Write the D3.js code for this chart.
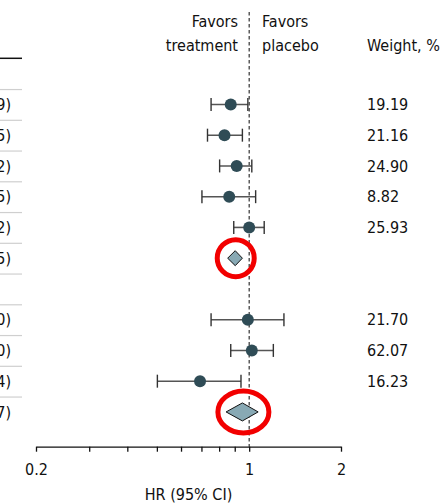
<!DOCTYPE html>
<html>
<head>
<meta charset="utf-8">
<script src="https://cdn.jsdelivr.net/npm/d3@7"></script>
<style>
  body { margin: 0; background: #fff; }
  svg { display: block; }
  text { font-family: "DejaVu Sans Condensed", "DejaVu Sans", sans-serif; font-stretch: condensed; font-size: 16px; fill: #111; }
</style>
</head>
<body>
<svg></svg>
<script>
// rows: 0 header, 1-5 studies, 6 pooled, 7 header, 8-10 studies, 11 pooled
var rowType = ["header", "study", "study", "study", "study", "study", "pooled",
               "header", "study", "study", "study", "pooled"];
var hr     = [null, 0.87, 0.83, 0.91, 0.86, 1.00, 0.90, null, 0.99, 1.02, 0.69, 0.95];
var ciLow  = [null, 0.75, 0.73, 0.80, 0.70, 0.89, 0.85, null, 0.75, 0.87, 0.50, 0.84];
var ciHigh = [null, 0.99, 0.95, 1.02, 1.05, 1.12, 0.95, null, 1.30, 1.20, 0.94, 1.07];
var weight = [null, "19.19", "21.16", "24.90", "8.82", "25.93", null, null, "21.70", "62.07", "16.23", null];
var tickMajor = [0.2, 1, 2];
var tickMinor = [0.3, 0.4, 0.5, 0.6, 0.7, 0.8, 0.9];

var svg = d3.select("svg"),
    width = 441,
    height = 504;

svg.attr("width", width).attr("height", height);

var rows = rowType.map(function(t, i) {
  return {i: i, type: t, hr: hr[i], lo: ciLow[i], hi: ciHigh[i], w: weight[i]};
});

var x = d3.scaleLog().domain([0.2, 2]).range([36, 341]);
var y = d3.scaleBand().domain(d3.range(rows.length)).range([58.3, 427.3]);
var axisY = 446.7;
var fmt = d3.format(".2f");

// left table separators (table is cut off at the left edge)
svg.append("line")
    .attr("x1", 0).attr("x2", 22)
    .attr("y1", y(0)).attr("y2", y(0))
    .style("stroke", "#111").style("stroke-width", 1.5);

svg.append("g").selectAll("line")
  .data(d3.range(1, rows.length))
  .enter().append("line")
    .attr("x1", 0).attr("x2", 22)
    .attr("y1", function(d) { return y(d) + 0.5; })
    .attr("y2", function(d) { return y(d) + 0.5; })
    .style("stroke", "#cfcfcf").style("stroke-width", 1.2);

// HR (95% CI) text column, mostly outside the view
svg.append("g").selectAll("text")
  .data(rows.filter(function(d) { return d.hr != null; }))
  .enter().append("text")
    .attr("x", 11)
    .attr("y", function(d) { return y(d.i) + y.bandwidth() / 2; })
    .attr("dy", "0.36em")
    .attr("text-anchor", "end")
    .text(function(d) { return fmt(d.hr) + " (" + fmt(d.lo) + "-" + fmt(d.hi) + ")"; });

// null line
svg.append("line")
    .attr("x1", x(1)).attr("x2", x(1))
    .attr("y1", 12).attr("y2", axisY)
    .style("stroke", "#333").style("stroke-width", 1.2)
    .style("stroke-dasharray", "3.5,2.5");

// headers
var hdr = svg.append("g");
hdr.append("text").attr("x", 238).attr("y", 27).attr("text-anchor", "end").text("Favors");
hdr.append("text").attr("x", 238).attr("y", 50.5).attr("text-anchor", "end").text("treatment");
hdr.append("text").attr("x", 262).attr("y", 27).text("Favors");
hdr.append("text").attr("x", 262).attr("y", 50.5).text("placebo");
hdr.append("text").attr("x", 367).attr("y", 51).text("Weight, %");

// study rows
var study = svg.append("g").selectAll("g")
  .data(rows.filter(function(d) { return d.type === "study"; }))
  .enter().append("g")
    .attr("transform", function(d) { return "translate(0," + (y(d.i) + y.bandwidth() / 2) + ")"; });

study.append("line")
    .attr("x1", function(d) { return x(d.lo); })
    .attr("x2", function(d) { return x(d.hi); })
    .style("stroke", "#555").style("stroke-width", 1.6);

study.selectAll("line.cap")
  .data(function(d) { return [d.lo, d.hi]; })
  .enter().append("line")
    .attr("class", "cap")
    .attr("x1", function(v) { return x(v); })
    .attr("x2", function(v) { return x(v); })
    .attr("y1", -6.5).attr("y2", 6.5)
    .style("stroke", "#333").style("stroke-width", 1.4);

study.append("circle")
    .attr("cx", function(d) { return x(d.hr); })
    .attr("r", 6)
    .style("fill", "#2f4c56");

study.append("text")
    .attr("x", 367)
    .attr("dy", "0.36em")
    .text(function(d) { return d.w; });

// pooled diamonds
var pooled = svg.append("g").selectAll("g")
  .data(rows.filter(function(d) { return d.type === "pooled"; }))
  .enter().append("g")
    .attr("transform", function(d) { return "translate(0," + (y(d.i) + y.bandwidth() / 2) + ")"; });

pooled.append("path")
    .attr("d", function(d) {
      var h = d.i === 11 ? 9 : 7.5;
      return "M" + x(d.lo) + ",0L" + x(d.hr) + "," + (-h) + "L" + x(d.hi) + ",0L" + x(d.hr) + "," + h + "Z";
    })
    .style("fill", "#88a9b4").style("stroke", "#111").style("stroke-width", 1);

// red annotation rings around the pooled estimates
pooled.append("ellipse")
    .attr("cx", function(d) { return x(d.hr) + (d.i === 11 ? 1 : 0.5); })
    .attr("cy", 0)
    .attr("rx", function(d) { return d.i === 11 ? 25.5 : 18.5; })
    .attr("ry", function(d) { return d.i === 11 ? 21 : 18.5; })
    .style("fill", "none").style("stroke", "#f20000").style("stroke-width", 5);

// x axis
var axis = svg.append("g")
    .attr("transform", "translate(0," + axisY + ")")
    .call(d3.axisBottom(x)
      .tickValues(tickMajor)
      .tickFormat(function(d) { return d; })
      .tickSize(5)
      .tickSizeOuter(0)
      .tickPadding(12));

axis.select(".domain").style("stroke", "#111").style("stroke-width", 1.3);
axis.selectAll(".tick line").style("stroke", "#111").style("stroke-width", 1.3);
axis.selectAll(".tick text").style("font-size", "16px").style("font-family", null).style("fill", "#111");
axis.attr("font-family", null).attr("font-size", null);

axis.selectAll("line.minor")
  .data(tickMinor)
  .enter().append("line")
    .attr("class", "minor")
    .attr("x1", function(d) { return x(d); })
    .attr("x2", function(d) { return x(d); })
    .attr("y1", 0).attr("y2", 5)
    .style("stroke", "#111").style("stroke-width", 1.3);

svg.append("text")
    .attr("x", (x(0.2) + x(2)) / 2)
    .attr("y", 500)
    .attr("text-anchor", "middle")
    .text("HR (95% CI)");
</script>
</body>
</html>
